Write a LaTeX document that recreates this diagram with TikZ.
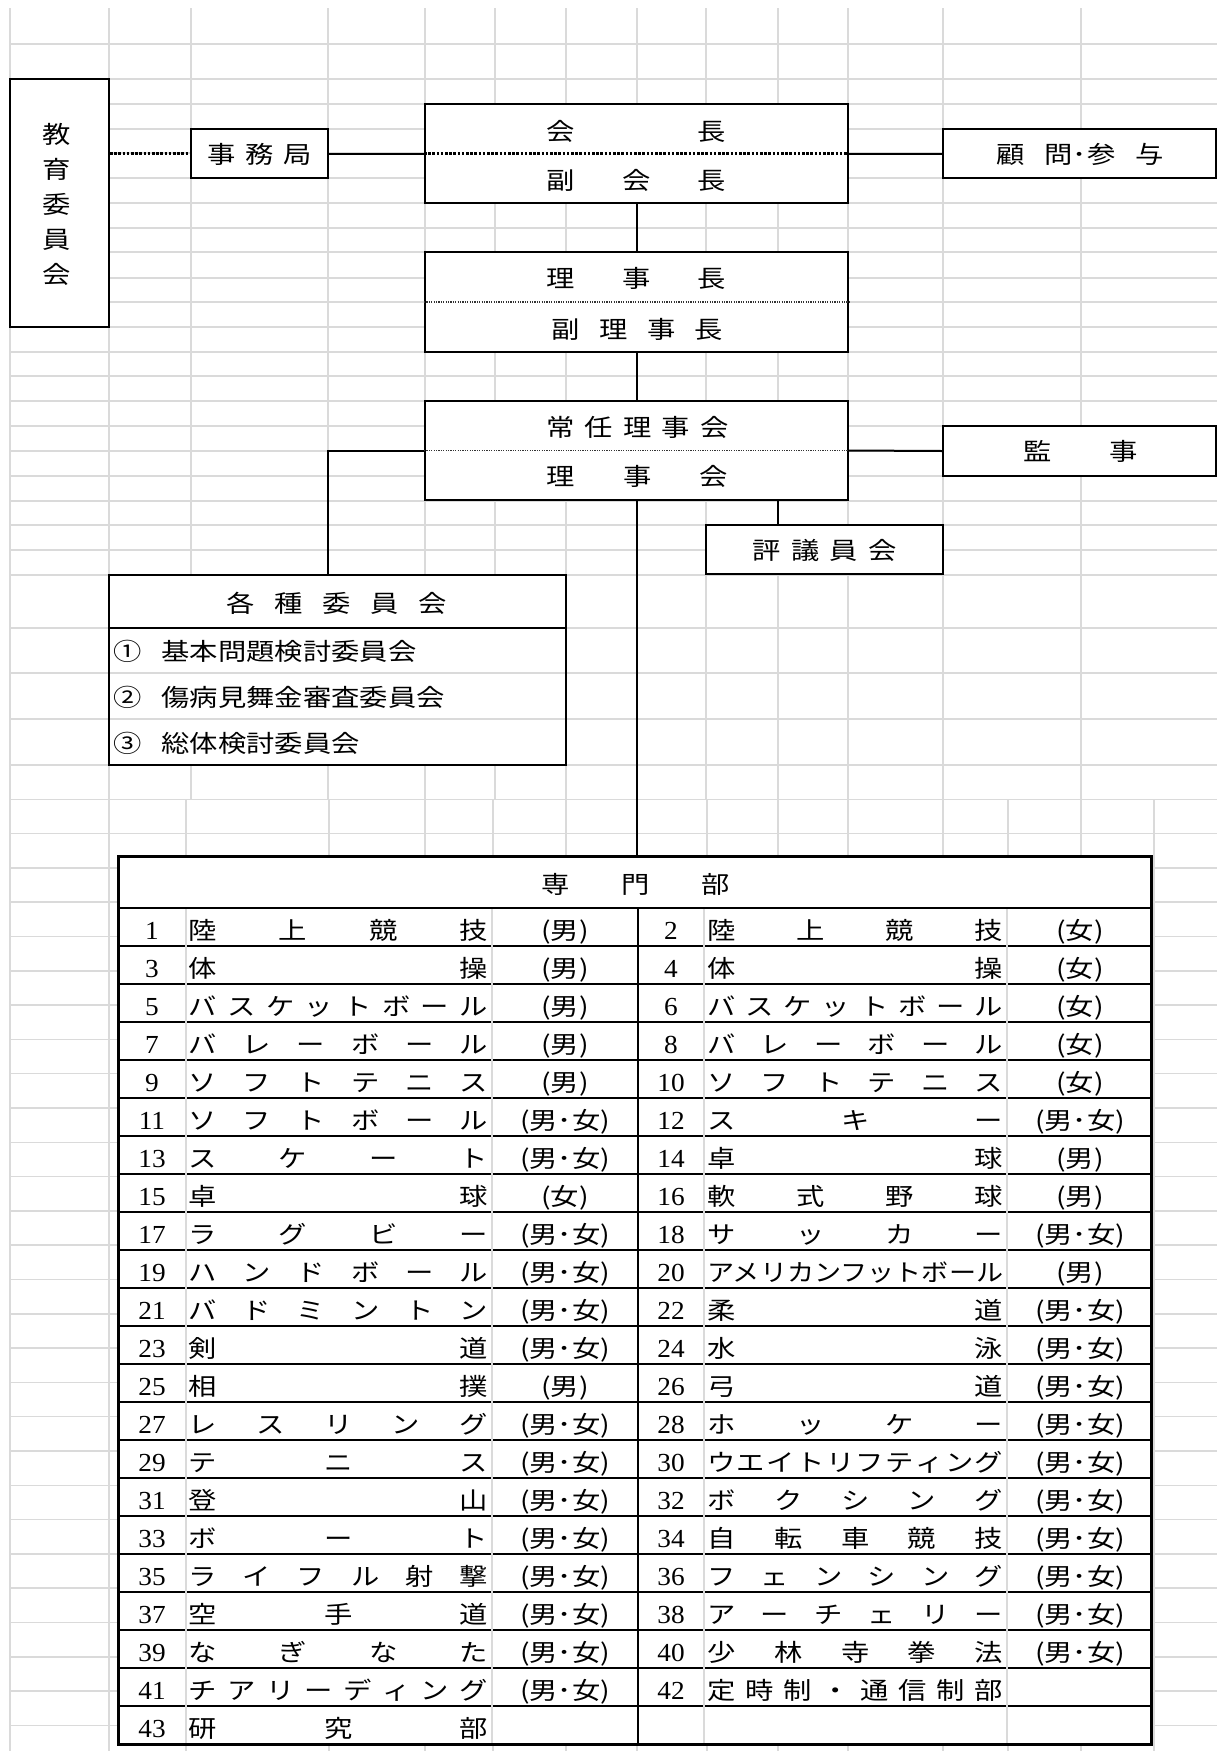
\documentclass[tikz,border=0pt]{standalone}
\usepackage{fontspec}
\usepackage{graphicx}
\setmainfont{Liberation Serif}
\newfontfamily\jp[FakeStretch=1.18]{Noto Sans CJK JP}
\newfontfamily\numf[FakeStretch=1.05]{Liberation Serif}
\definecolor{gridgray}{RGB}{218,218,218}
\newsavebox\distbox
\makeatletter
\newcommand\Spaced[2]{\def\sp@pitch{#1}\edef\sp@tmp{#2}\expandafter\sp@loop\sp@tmp\@nil}
\def\sp@loop#1{\ifx\@nil#1\else\makebox[\sp@pitch]{#1}\expandafter\sp@loop\fi}
\newcommand\Dist[2]{\edef\dist@tmp{#2}%
  \sbox\distbox{\dist@tmp}%
  \ifdim\wd\distbox>#1\relax\resizebox{#1}{\height}{\usebox\distbox}%
  \else\hbox to #1{\expandafter\dist@first\dist@tmp\@nil}\fi}
\def\dist@first#1{#1\dist@rest}
\def\dist@rest#1{\ifx\@nil#1\else\hfil#1\expandafter\dist@rest\fi}
\makeatother
\begin{document}
\begin{tikzpicture}[x=1pt,y=-1pt,
  gridline/.style={draw=gridgray,line width=1.5pt},
  box/.style={draw=black,line width=2pt,fill=white,inner sep=0pt,rectangle},
  conn/.style={draw=black,line width=2pt},
  bigdot/.style={draw=black,line width=2.6pt,dash pattern=on 2.6pt off 1.6pt},
  finedot/.style={draw=black!80,line width=1.2pt,dash pattern=on 1.2pt off 1.2pt},
  lbl/.style={font=\jp\fontsize{24}{24}\selectfont,inner sep=0pt,anchor=base},
  num/.style={font=\numf\fontsize{26}{26}\selectfont,inner sep=0pt,anchor=base},
  rowline/.style={draw=black,line width=2pt},
  cellgray/.style={draw=gridgray,line width=1.5pt}]
\useasboundingbox (0,0) rectangle (1217,1751);
\fill[white] (0,0) rectangle (1217,1751);
% ---------- background grid ----------
\foreach \y in {44,79,104,129,153,178,203,228,252,278,302,327,352,376,401,426,451,476,501,525,550,575,628,673,719,765}
  \draw[gridline] (10,\y) -- (1217,\y);
\foreach \k in {1,...,28}
  \draw[gridline] (10,{765+34.3*\k}) -- (1217,{765+34.3*\k});
\foreach \x in {10,109,425,566,637,778,848,943,1081}
  \draw[gridline] (\x,8) -- (\x,1751);
\foreach \x in {191,328,495,706}
  \draw[gridline] (\x,8) -- (\x,799);
\foreach \x in {186,329,493,707,1008,1154}
  \draw[gridline] (\x,799) -- (\x,1751);
% ---------- boxes ----------
\node[box,minimum width=99pt,minimum height=248pt] (kyoiku) at (59.5,203) {};
\node[box,minimum width=137pt,minimum height=49pt] (jimu) at (259.5,153.5) {};
\node[box,minimum width=423pt,minimum height=99pt] (kaicho) at (636.5,153.5) {};
\node[box,minimum width=273pt,minimum height=49pt] (komon) at (1079.5,153.5) {};
\node[box,minimum width=423pt,minimum height=100pt] (riji) at (636.5,302) {};
\node[box,minimum width=423pt,minimum height=99pt] (jonin) at (636.5,450.5) {};
\node[box,minimum width=273pt,minimum height=50pt] (kanji) at (1079.5,451) {};
\node[box,minimum width=237pt,minimum height=49pt] (hyogi) at (824.5,549.5) {};
\node[box,minimum width=457pt,minimum height=190pt] (kaku) at (337.5,670) {};
\node[box,line width=3pt,minimum width=1033pt,minimum height=888pt] (senmon) at (634.5,1300) {};
\coordinate (hyx) at (778,0);
\coordinate (kkx) at (328,0);
% ---------- dividers inside boxes ----------
\draw[bigdot] (kaicho.west) -- (kaicho.east);
\draw[finedot] (riji.west) -- (riji.east);
\draw[finedot] (jonin.west) -- (jonin.east);
\draw[rowline] (109,628) -- (566,628);
\draw[cellgray] (110,673) -- (565,673);
\draw[cellgray] (110,719) -- (565,719);
% ---------- connectors ----------
\draw[bigdot] (kyoiku.east |- jimu.west) -- (jimu.west);
\draw[conn] (jimu.east) -- (kaicho.west);
\draw[conn] (kaicho.east) -- (komon.west);
\draw[conn] (kaicho.south) -- (riji.north);
\draw[conn] (riji.south) -- (jonin.north);
\draw[conn] (jonin.east) -- (kanji.west);
\draw[conn] (jonin.west) -| (kaku.north -| kkx);
\draw[conn] (jonin.south -| hyx) -- (hyogi.north -| hyx);
\draw[conn] (jonin.south) -- (senmon.north -| jonin.south);
% ---------- texts ----------
\node[font=\jp\fontsize{24}{35}\selectfont,inner sep=0pt,align=center] (t-kyoiku) at (57,204) {教\\育\\委\\員\\会};
\node[lbl] (t-jimu) at (259.5,163) {\Spaced{38pt}{事務局}};
\node[lbl] (t-kai1) at (636.5,140) {\Spaced{151pt}{会長}};
\node[lbl] (t-kai2) at (636.5,189) {\Spaced{75.5pt}{副会長}};
\node[lbl] (t-komon) at (1080,163) {顧\hspace{20pt}問･参\hspace{20pt}与};
\node[lbl] (t-riji1) at (636.5,287) {\Spaced{75.5pt}{理事長}};
\node[lbl] (t-riji2) at (637.5,338) {\Spaced{47.7pt}{副理事長}};
\node[lbl] (t-jonin1) at (637.5,436) {\Spaced{38.5pt}{常任理事会}};
\node[lbl] (t-jonin2) at (637.5,485) {\Spaced{76.5pt}{理事会}};
\node[lbl] (t-kanji) at (1081,460) {\Spaced{86pt}{監事}};
\node[lbl] (t-hyogi) at (824.5,559) {\Spaced{38.5pt}{評議員会}};
\node[lbl] (t-kaku) at (337,612) {\Spaced{48pt}{各種委員会}};
\node[lbl,anchor=base west] (t-k1) at (113,660) {①\hspace{20pt}基本問題検討委員会};
\node[lbl,anchor=base west] (t-k2) at (113,706) {②\hspace{20pt}傷病見舞金審査委員会};
\node[lbl,anchor=base west] (t-k3) at (113,752) {③\hspace{20pt}総体検討委員会};
% ---------- table ----------
\node[lbl] (t-senmon) at (636,893) {\Spaced{80pt}{専門部}};
\draw[rowline,line width=2.5pt] (118,908) -- (1151,908);
\foreach \k in {1,...,21}
  \draw[rowline] (118,{908+38*\k}) -- (1151,{908+38*\k});
\draw[cellgray] (186,909) -- (186,1743);
\draw[cellgray] (492,909) -- (492,1743);
\draw[cellgray] (704,909) -- (704,1743);
\draw[cellgray] (1007,909) -- (1007,1743);
\draw[rowline] (638,908) -- (638,1744);
\foreach \n/\nm/\sx [count=\i from 0] in {1/陸上競技/男,3/体操/男,5/バスケットボール/男,7/バレーボール/男,9/ソフトテニス/男,11/ソフトボール/男･女,13/スケート/男･女,15/卓球/女,17/ラグビー/男･女,19/ハンドボール/男･女,21/バドミントン/男･女,23/剣道/男･女,25/相撲/男,27/レスリング/男･女,29/テニス/男･女,31/登山/男･女,33/ボート/男･女,35/ライフル射撃/男･女,37/空手道/男･女,39/なぎなた/男･女,41/チアリーディング/男･女,43/研究部/}{
  \node[num] (ln\n) at (152,{939+38*\i}) {\n};
  \node[lbl,anchor=base west] (lm\n) at (188.5,{939+38*\i}) {\Dist{299pt}{\nm}};
  \ifx\sx\empty\else\node[lbl] (ls\n) at (565,{939+38*\i}) {(\sx)};\fi
}
\foreach \n/\nm/\sx [count=\i from 0] in {2/陸上競技/女,4/体操/女,6/バスケットボール/女,8/バレーボール/女,10/ソフトテニス/女,12/スキー/男･女,14/卓球/男,16/軟式野球/男,18/サッカー/男･女,20/アメリカンフットボール/男,22/柔道/男･女,24/水泳/男･女,26/弓道/男･女,28/ホッケー/男･女,30/ウエイトリフティング/男･女,32/ボクシング/男･女,34/自転車競技/男･女,36/フェンシング/男･女,38/アーチェリー/男･女,40/少林寺拳法/男･女,42/定時制・通信制部/}{
  \node[num] (rn\n) at (671,{939+38*\i}) {\n};
  \node[lbl,anchor=base west] (rm\n) at (707,{939+38*\i}) {\Dist{296pt}{\nm}};
  \ifx\sx\empty\else\node[lbl] (rs\n) at (1080,{939+38*\i}) {(\sx)};\fi
}
\end{tikzpicture}
\end{document}
